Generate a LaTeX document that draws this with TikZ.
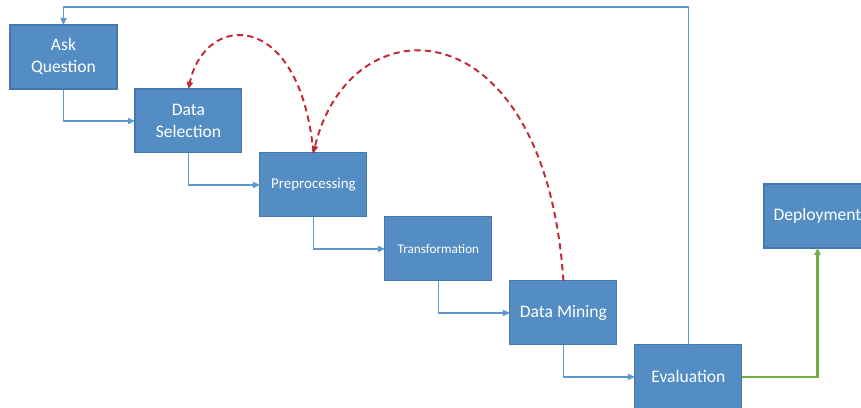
\documentclass[tikz,border=0pt]{standalone}
\usepackage{fontspec}
\setmainfont{Carlito}
\usetikzlibrary{positioning,arrows.meta}

\definecolor{boxblue}{RGB}{83,141,196}
\definecolor{boxedge}{RGB}{70,120,172}
\definecolor{lineblue}{RGB}{96,150,206}
\definecolor{dashred}{RGB}{196,40,50}
\definecolor{stepgreen}{RGB}{112,173,71}

\begin{document}
\begin{tikzpicture}[x=0.02cm, y=0.02cm,
    stage/.style = {shape=rectangle, draw=boxedge, line width=0.6pt,
      fill=boxblue, text=white, align=center, outer sep=0pt,
      minimum width=2.14cm, minimum height=1.28cm, inner sep=1pt,
      font=\fontsize{10}{12.5}\selectfont},
    flow/.style = {draw=lineblue, line width=0.9pt,
      -{Triangle[length=4pt,width=3.5pt]}},
    feedback/.style = {draw=dashred, line width=1.1pt,
      dash pattern=on 3.6pt off 2.4pt,
      -{Triangle[length=4pt,width=3.5pt]}},
    release/.style = {draw=stepgreen, line width=1.4pt,
      -{Triangle[length=4pt,width=3.5pt]}}]
    \useasboundingbox (0,0) rectangle (861,408);

    % staircase of stages
    \node[stage, anchor=north west] (ask) at (10,383) {Ask\\Question};
    \node[stage, below right=0pt and 0.36cm of ask.south east, anchor=north west]
      (sel) {Data\\Selection};
    \node[stage, below right=0pt and 0.36cm of sel.south east, anchor=north west,
      font=\fontsize{8.5}{10}\selectfont] (pre) {Preprocessing};
    \node[stage, below right=0pt and 0.36cm of pre.south east, anchor=north west,
      font=\fontsize{7.5}{9}\selectfont] (trans) {Transformation};
    \node[stage, below right=0pt and 0.36cm of trans.south east, anchor=north west]
      (mine) {Data Mining};
    \node[stage, below right=0pt and 0.36cm of mine.south east, anchor=north west]
      (eval) {Evaluation};
    \node[stage, anchor=north west] (deploy) at (764,224) {Deployment};

    % forward steps
    \foreach \a/\b in {ask/sel, sel/pre, pre/trans, trans/mine, mine/eval}
      \draw[flow] (\a.south) |- (\b.west);

    % loop back to the question
    \coordinate (top) at (0,401);
    \draw[flow] (eval.north) -- (eval.north |- top) -| (ask.north);

    % go live
    \draw[release] (eval.east) -| (deploy.south);

    % feedback arcs
    \draw[feedback] (pre.north) .. controls (300,400) and (205,396) .. (sel.north);
    \draw[feedback] (mine.north) .. controls (545,405) and (350,408) .. (pre.north);
\end{tikzpicture}
\end{document}
